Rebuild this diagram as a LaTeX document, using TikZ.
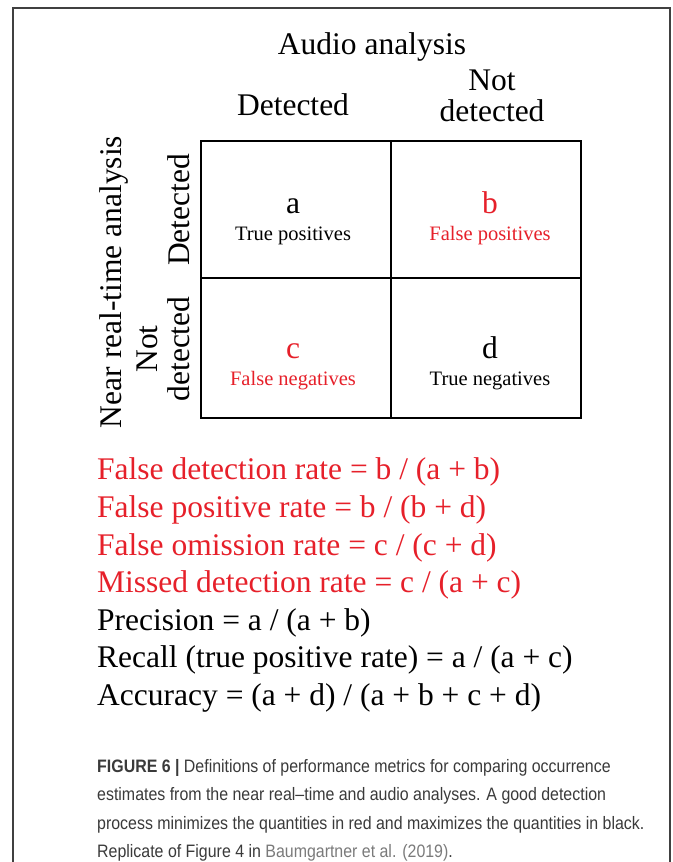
\documentclass[tikz,border=0pt]{standalone}
\usepackage{fontspec}
\setmainfont{Liberation Serif}
\newfontfamily\capfont[FakeStretch=0.885]{Liberation Sans}
\usepackage{xcolor}
\definecolor{mred}{HTML}{E6202A}
\definecolor{mlink}{HTML}{7A7A7A}
\definecolor{mcap}{HTML}{3A3A3A}
\usepackage{tikz}

\tikzset{
    bigtext/.style={font=\fontsize{31.5}{37}\selectfont, inner sep=0pt},
    smalltext/.style={font=\fontsize{20.5}{24}\selectfont, inner sep=0pt},
    captext/.style={font=\capfont\fontsize{18}{28}\selectfont, inner sep=0pt, text=mcap, anchor=base west},
    formula/.style={bigtext, anchor=base west}
}

\begin{document}
\begin{tikzpicture}[x=1pt, y=-1pt]
            \useasboundingbox (0, 0) rectangle (672, 862);
            % frame
            \draw[line width=1.5pt, black!75] (13, 862) -- (13, 8) -- (670, 8) -- (670, 862);
            % table
            \draw[line width=2.5pt] (201, 141) rectangle (581, 418);
            \draw[line width=2.5pt] (391, 141) -- (391, 418);
            \draw[line width=2.5pt] (201, 278) -- (581, 278);
            % headers
            \node[bigtext, anchor=base] (audio) at (372, 54) {Audio analysis};
            \node[bigtext, anchor=base] (coldet) at (293, 115.5) {Detected};
            \node[bigtext, anchor=base] (colnot) at (492, 90) {Not};
            \node[bigtext, anchor=base] (colnotdet) at (492, 121) {detected};
            \node[bigtext, anchor=base, rotate=90] (nrt) at (121, 282) {Near real-time analysis};
            \node[bigtext, anchor=base, rotate=90] (rowdet) at (189, 210) {Detected};
            \node[bigtext, anchor=base, rotate=90] (rownot) at (157, 349) {Not};
            \node[bigtext, anchor=base, rotate=90] (rownotdet) at (189, 349) {detected};
            % cells
            \node[bigtext, anchor=base] (a) at (293, 213) {a};
            \node[smalltext, anchor=base] at (293, 240) {True positives};
            \node[bigtext, anchor=base, mred] (b) at (490, 213) {b};
            \node[smalltext, anchor=base, mred] at (490, 240) {False positives};
            \node[bigtext, anchor=base, mred] (c) at (293, 358) {c};
            \node[smalltext, anchor=base, mred] at (293, 385) {False negatives};
            \node[bigtext, anchor=base] (d) at (490, 358) {d};
            \node[smalltext, anchor=base] at (490, 385) {True negatives};
            % metrics
            \node[formula, mred] (fdr) at (97, 479) {False detection rate = b / (a + b)};
            \node[formula, mred] (fpr) at (97, 517) {False positive rate = b / (b + d)};
            \node[formula, mred] (for) at (97, 555) {False omission rate = c / (c + d)};
            \node[formula, mred] (mdr) at (97, 592) {Missed detection rate = c / (a + c)};
            \node[formula] (prec) at (97, 630) {Precision = a / (a + b)};
            \node[formula] (rec) at (97, 667) {Recall (true positive rate) = a / (a + c)};
            \node[formula] (acc) at (97, 705) {Accuracy = (a + d) / (a + b + c + d)};
            % caption
            \node[captext] (cap1) at (97, 772) {\textbf{FIGURE 6 |} Definitions of performance metrics for comparing occurrence};
            \node[captext] (cap2) at (97, 800.5) {estimates from the near real–time and audio analyses. A good detection};
            \node[captext] (cap3) at (97, 829) {process minimizes the quantities in red and maximizes the quantities in black.};
            \node[captext] (cap4) at (97, 857) {Replicate of Figure 4 in \textcolor{mlink}{Baumgartner et al. (2019)}.};
        \end{tikzpicture}
\end{document}
